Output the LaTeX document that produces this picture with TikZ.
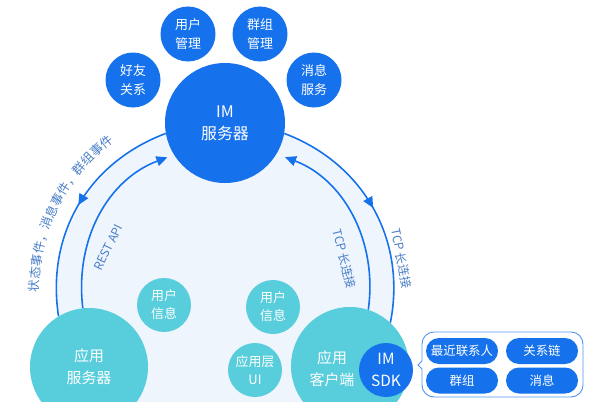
\documentclass[tikz,border=0pt]{standalone}
\usepackage{fontspec}
\setmainfont{Noto Sans CJK SC}
\usetikzlibrary{arrows.meta,decorations.markings,decorations.text}
\definecolor{imblue}{HTML}{1672EC}
\definecolor{appcyan}{HTML}{58CDDC}
\definecolor{palebg}{HTML}{EEF5FC}
\definecolor{labelblue}{HTML}{4A7FC8}
\begin{document}
\begin{tikzpicture}[x=1bp,y=1bp,
    ball/.style={circle,fill=#1,text=white,inner sep=0pt,align=center},
    server/.style={ball=imblue,minimum size=120bp,font=\fontsize{16}{22}\selectfont},
    paw/.style={ball=imblue,minimum size=55bp,font=\fontsize{13}{19}\selectfont},
    app/.style={ball=appcyan,minimum size=118bp,font=\fontsize{15}{22}\selectfont},
    dot/.style={ball=appcyan,minimum size=54bp,font=\fontsize{13}{18}\selectfont},
    link/.style={imblue,line width=1.6bp},
    midarrow/.style={postaction={decorate},decoration={markings,
        mark=at position .5 with {\arrow{Triangle[length=11bp,width=10bp]}}}},
    tip/.style={-{Triangle[length=11bp,width=10bp]}},
    pill/.style={rounded corners=13bp,fill=imblue,text=white,minimum width=72bp,
        minimum height=26bp,inner sep=0pt,font=\fontsize{12.5}{14}\selectfont},
    tag/.style={text=labelblue,inner sep=0pt,font=\fontsize{12}{14}\selectfont}]
  \fill[white] (0,0) rectangle (590,401);
  \useasboundingbox (0,0) rectangle (590,401);
  \coordinate (hub) at (225,110);
  \fill[palebg] (hub) circle[radius=168];

  % server side
  \node[server] (im) at (225,278) {IM\\服务器};
  \node[paw] (friend) at (133,321) {好友\\关系};
  \node[paw] (usermgmt) at (188,367) {用户\\管理};
  \node[paw] (groupmgmt) at (260,367) {群组\\管理};
  \node[paw] (msgsvc) at (314,321) {消息\\服务};

  % app side
  \node[app] (appserver) at (89,34) {应用\\服务器};
  \node[app] (client) at (350,35) {};
  \node[app,fill=none,minimum size=0pt] (clientname) at (332,32) {应用\\客户端};
  \node[ball=imblue,minimum size=54bp,font=\fontsize{15.5}{22}\selectfont] (sdk) at (386,31) {IM\\SDK};
  \node[dot] (userinfoA) at (164,96) {用户\\信息};
  \node[dot] (userinfoB) at (273,94) {用户\\信息};
  \node[dot] (appui) at (255,31) {应用层\\UI};

  % links
  \draw[link,midarrow] (im.190) to[out=200.6,in=98.7] (appserver.121);
  \draw[link,midarrow] (im.350) to[out=339.4,in=78.8] (client.47);
  \draw[link,tip,shorten >=7bp] (appserver.96) to[out=96.9,in=200.4] (im.212);
  \draw[link,tip,shorten >=9bp] (client.72) to[out=82.1,in=339.4] (im.329);

  \path[decorate,decoration={text along path,text align=center,text color=labelblue,
      text={|\fontsize{12.5}{14}\selectfont|状态事件，消息事件，群组事件}}]
    ([shift={(183:186)}]hub) arc[start angle=183,end angle=124,radius=186];
  \node[tag,rotate=64] (restapi) at (108.5,153.5) {REST API};
  \node[tag,rotate=-76] (tcpinner) at (344.5,142) {TCP 长连接};
  \node[tag,rotate=-79] (tcpouter) at (401.5,142.5) {TCP 长连接};

  % sdk box
  \draw[imblue!75,line width=.9bp,fill=white] (422,40)
    [rounded corners=12bp] -- (422,69) -- (583,69) -- (583,4) -- (422,4)
    [sharp corners] -- (422,32) -- (418,36) -- cycle;
  \node[pill] (recent) at (462,50) {最近联系人};
  \node[pill] (relation) at (542,50) {关系链};
  \node[pill] (group) at (462,20.5) {群组};
  \node[pill] (message) at (542,20.5) {消息};
\end{tikzpicture}
\end{document}
